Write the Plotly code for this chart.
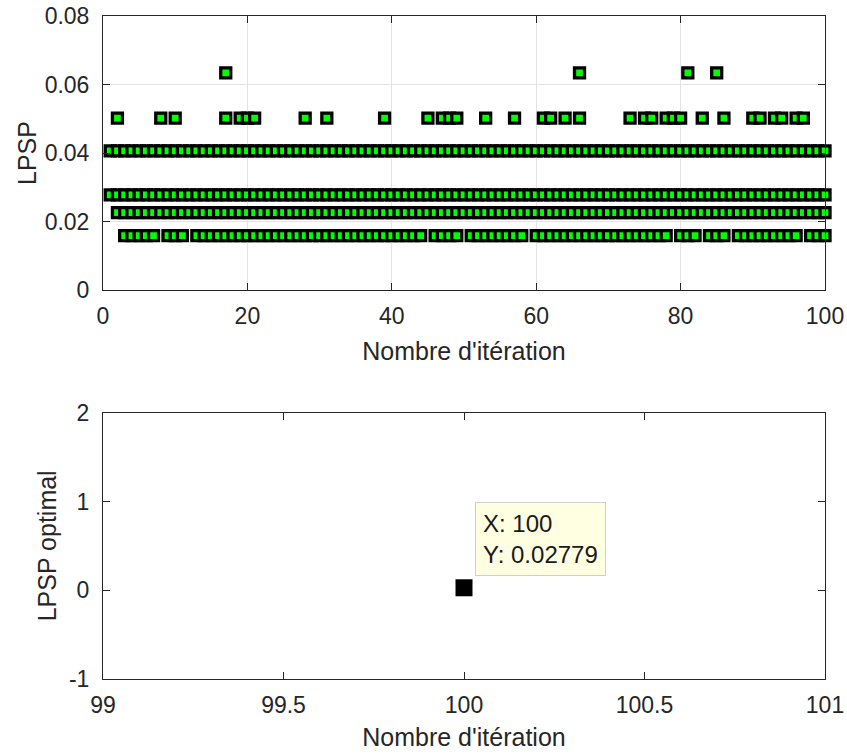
import plotly.graph_objects as go

# ---- data ----
# LPSP levels (top plot) and the iterations at which each level appears
lpsp_levels = [0.0634, 0.0502, 0.0406, 0.02779, 0.0226, 0.0159]
runs_0634 = [(17, 17), (66, 66), (81, 81), (85, 85)]
runs_0502 = [(2, 2), (8, 8), (10, 10), (17, 17), (19, 21), (28, 28), (31, 31), (39, 39),
             (45, 45), (47, 49), (53, 53), (57, 57), (61, 62), (64, 64), (66, 66), (73, 73),
             (75, 76), (78, 80), (83, 83), (86, 86), (90, 91), (93, 94), (96, 97)]
runs_0406 = [(1, 100)]
runs_0278 = [(1, 100)]
runs_0226 = [(2, 100)]
runs_0159 = [(3, 7), (9, 11), (13, 44), (46, 49), (51, 58), (60, 78), (80, 82), (84, 86),
             (88, 96), (98, 100)]
level_runs = [runs_0634, runs_0502, runs_0406, runs_0278, runs_0226, runs_0159]

# optimal point (bottom plot)
opt_x = [100]
opt_y = [0.02779]

x1_ticks = [0, 20, 40, 60, 80, 100]
y1_ticks = [0, 0.02, 0.04, 0.06, 0.08]
y1_ticktext = ["0", "0.02", "0.04", "0.06", "0.08"]
x2_ticks = [99, 99.5, 100, 100.5, 101]
x2_ticktext = ["99", "99.5", "100", "100.5", "101"]
y2_ticks = [-1, 0, 1, 2]
y2_ticktext = ["-1", "0", "1", "2"]

x_title = "Nombre d'itération"
y1_title = "LPSP"
y2_title = "LPSP optimal"


def expand(runs):
    out = []
    for a, b in runs:
        out.extend(range(a, b + 1))
    return out


W, H = 847, 755
ML, MR, MT, MB = 103, 22, 16, 76
ph = H - MT - MB
top_bottom = (H - MB - 290) / ph
bot_top = (H - MB - 412.7) / ph

fig = go.Figure()

# draw top markers level by level, left to right
for lvl, runs in zip(lpsp_levels, level_runs):
    xs = expand(runs)
    fig.add_trace(go.Scatter(
        x=xs, y=[lvl] * len(xs), mode="markers", xaxis="x", yaxis="y",
        marker=dict(symbol="square", size=10, color="#00FF00",
                    line=dict(color="black", width=3.3)),
        cliponaxis=False, showlegend=False, hoverinfo="x+y"))

fig.add_trace(go.Scatter(
    x=opt_x, y=opt_y, mode="markers", xaxis="x2", yaxis="y2",
    marker=dict(symbol="square", size=17, color="black", line=dict(width=0)),
    cliponaxis=False, showlegend=False))

font_fam = "Liberation Sans, Arial, sans-serif"
tick_font = dict(family=font_fam, size=23, color="#262626")
title_font = dict(family=font_fam, size=25, color="#262626")

axis_common = dict(showline=True, linecolor="#262626", linewidth=1, mirror="ticks",
                   ticks="inside", ticklen=7, tickwidth=1, tickcolor="#262626",
                   tickfont=tick_font, zeroline=False, automargin=False)

fig.update_layout(
    width=W, height=H,
    margin=dict(l=ML, r=MR, t=MT, b=MB, pad=0, autoexpand=False),
    paper_bgcolor="white", plot_bgcolor="white",
    xaxis=dict(domain=[0, 1], anchor="y", range=[0, 100], tickvals=x1_ticks,
               showgrid=True, gridcolor="#E3E3E3", gridwidth=1,
               title=dict(text=x_title, font=title_font, standoff=14),
               ticklabelstandoff=5, **axis_common),
    yaxis=dict(domain=[top_bottom, 1], anchor="x", range=[0, 0.08], tickvals=y1_ticks,
               ticktext=y1_ticktext, showgrid=True, gridcolor="#E3E3E3", gridwidth=1,
               title=dict(text=y1_title, font=title_font, standoff=0),
               ticklabelstandoff=8, **axis_common),
    xaxis2=dict(domain=[0, 1], anchor="y2", range=[99, 101], tickvals=x2_ticks,
                ticktext=x2_ticktext, showgrid=False,
                title=dict(text=x_title, font=title_font, standoff=11),
                ticklabelstandoff=5, **axis_common),
    yaxis2=dict(domain=[0, bot_top], anchor="x2", range=[-1, 2], tickvals=y2_ticks,
                ticktext=y2_ticktext, showgrid=False,
                title=dict(text=y2_title, font=title_font, standoff=5),
                ticklabelstandoff=8, **axis_common),
    annotations=[dict(
        x=opt_x[0], y=opt_y[0], xref="x2", yref="y2",
        text=f"X: {opt_x[0]}<br>Y: {opt_y[0]}", showarrow=False,
        xanchor="left", yanchor="bottom", xshift=11, yshift=12, align="left",
        font=dict(family=font_fam, size=24, color="#1a1a1a"),
        bgcolor="#FFFFE1", bordercolor="#CFCFCF", borderwidth=1, borderpad=7)],
)

fig.write_html("out.html")
